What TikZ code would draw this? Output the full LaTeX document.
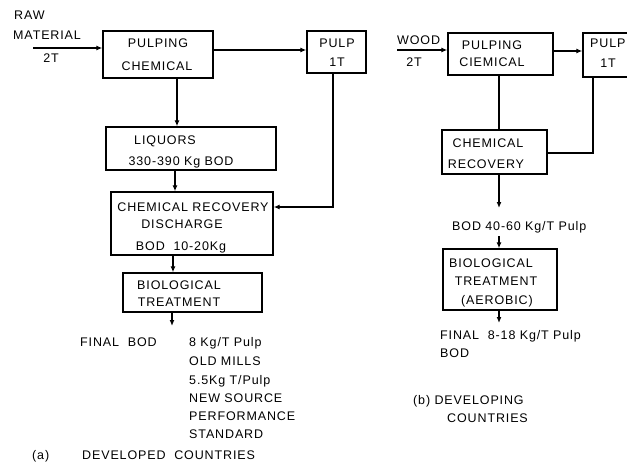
\documentclass[tikz,border=0pt]{standalone}
\usepackage{fontspec}
\setmainfont{Liberation Sans}[LetterSpace=7]
\usetikzlibrary{arrows.meta}
\begin{document}
\begin{tikzpicture}[x=1pt,y=-1pt,
  box/.style={draw,line width=1.4pt,inner sep=0pt},
  arr/.style={line width=1.2pt,-{Latex[length=6pt,width=5pt]}},
  ln/.style={line width=1.2pt},
  txt/.style={font=\fontsize{12.5}{14}\selectfont,inner sep=0pt,text height=9pt,text depth=0pt}]
\useasboundingbox (0,0) rectangle (627,471);
\clip (0,0) rectangle (627,471);
% ---------- (a) developed countries ----------
\node[box,minimum width=110pt,minimum height=47pt] (pc) at (158,54.5) {};
\node[box,minimum width=59pt,minimum height=42pt] (pulpA) at (336.5,52) {};
\node[box,minimum width=170pt,minimum height=43pt] (liq) at (191,148.5) {};
\node[box,minimum width=162pt,minimum height=63pt] (cr) at (192,223.5) {};
\node[box,minimum width=139pt,minimum height=39pt] (bio) at (192.5,292.5) {};

\node[txt,anchor=west] (raw) at (14,15) {RAW};
\node[txt,anchor=west] (mat) at (13,35) {MATERIAL};
\node[txt] (twoA) at (51,58) {2T};
\node[txt] (pcA1) at (158,43) {PULPING};
\node[txt] (pcA2) at (157,66) {CHEMICAL};
\node[txt] (pA1) at (337,43) {PULP};
\node[txt] (pA2) at (337,62) {1T};
\node[txt] (lq1) at (165,140) {LIQUORS};
\node[txt] (lq2) at (181,161) {330-390 Kg BOD};
\node[txt] (cr1) at (193,207) {CHEMICAL RECOVERY};
\node[txt] (cr2t) at (182,224) {DISCHARGE};
\node[txt] (cr3) at (181,246) {BOD\ \ 10-20Kg};
\node[txt] (bi1) at (179,285) {BIOLOGICAL};
\node[txt] (bi2) at (179,302) {TREATMENT};
\node[txt,anchor=west] (fin) at (80,342) {FINAL\ \ BOD};
\node[txt,anchor=west] (f1) at (189,342) {8 Kg/T Pulp};
\node[txt,anchor=west] (f2) at (189,361) {OLD MILLS};
\node[txt,anchor=west] (f3) at (189,380) {5.5Kg T/Pulp};
\node[txt,anchor=west] (f4) at (189,398) {NEW SOURCE};
\node[txt,anchor=west] (f5) at (189,416) {PERFORMANCE};
\node[txt,anchor=west] (f6) at (189,434) {STANDARD};
\node[txt,anchor=west] (capA1) at (32,455) {(a)};
\node[txt,anchor=west] (capA2) at (82,455) {DEVELOPED\ \ COUNTRIES};

\coordinate (rawS) at (33,48);
\draw[arr] (rawS) -- (rawS -| pc.west);
\draw[arr] ([yshift=4.5pt]pc.east) -- ([yshift=4.5pt]pc.east -| pulpA.west);
\draw[arr] ([xshift=19pt]pc.south) -- ([xshift=19pt]pc.south |- liq.north);
\draw[arr] ([xshift=-16pt]liq.south) -- ([xshift=-16pt]liq.south |- cr.north);
\draw[arr] ([xshift=-19pt]cr.south) -- ([xshift=-19pt]cr.south |- bio.north);
\coordinate (finA) at (172,326);
\draw[arr] (bio.south -| finA) -- (finA);
\draw[arr] ([xshift=-3.5pt]pulpA.south) |- ([yshift=16.5pt]cr.east);

% ---------- (b) developing countries ----------
\node[box,minimum width=105pt,minimum height=42pt] (pcB) at (500.5,54) {};
\node[box,minimum width=58pt,minimum height=44pt] (pulpB) at (612,55) {};
\node[box,minimum width=105pt,minimum height=44pt] (crB) at (494.5,152) {};
\node[box,minimum width=114pt,minimum height=61pt] (bioB) at (500,279.5) {};

\node[txt,anchor=west] (wood) at (397,40) {WOOD};
\node[txt] (twoB) at (414,62) {2T};
\node[txt] (pcB1) at (492,45) {PULPING};
\node[txt] (pcB2) at (492,62) {CIEMICAL};
\node[txt,anchor=west] (pB1) at (590,43) {PULP};
\node[txt] (pB2) at (608,63) {1T};
\node[txt] (crB1) at (488,143) {CHEMICAL};
\node[txt] (crB2) at (486,164) {RECOVERY};
\node[txt,anchor=west] (bodB) at (452,226) {BOD 40-60 Kg/T Pulp};
\node[txt] (biB1) at (491,263) {BIOLOGICAL};
\node[txt] (biB2) at (496,281) {TREATMENT};
\node[txt] (biB3) at (497,300) {(AEROBIC)};
\node[txt,anchor=west] (finB1) at (440,335) {FINAL\ \ 8-18 Kg/T Pulp};
\node[txt,anchor=west] (finB2) at (440,353) {BOD};
\node[txt,anchor=west] (capB1) at (413,400) {(b) DEVELOPING};
\node[txt,anchor=west] (capB2) at (447,418) {COUNTRIES};

\coordinate (woodS) at (397,50);
\draw[arr] (woodS) -- (woodS -| pcB.west);
\draw[arr] ([yshift=3pt]pcB.east) -- ([yshift=3pt]pcB.east -| pulpB.west);
\draw[ln] ([xshift=-1.5pt]pcB.south) -- ([xshift=-1.5pt]pcB.south |- crB.north);
\draw[ln] ([xshift=-19pt]pulpB.south) |- ([yshift=-1pt]crB.east);
\coordinate (bodT) at (499,208);
\coordinate (bodB2) at (499,236);
\draw[arr] (crB.south -| bodT) -- (bodT);
\draw[arr] (bodB2) -- (bodB2 |- bioB.north);
\coordinate (finBt) at (499,323);
\draw[arr] (bioB.south -| finBt) -- (finBt);
\end{tikzpicture}
\end{document}
